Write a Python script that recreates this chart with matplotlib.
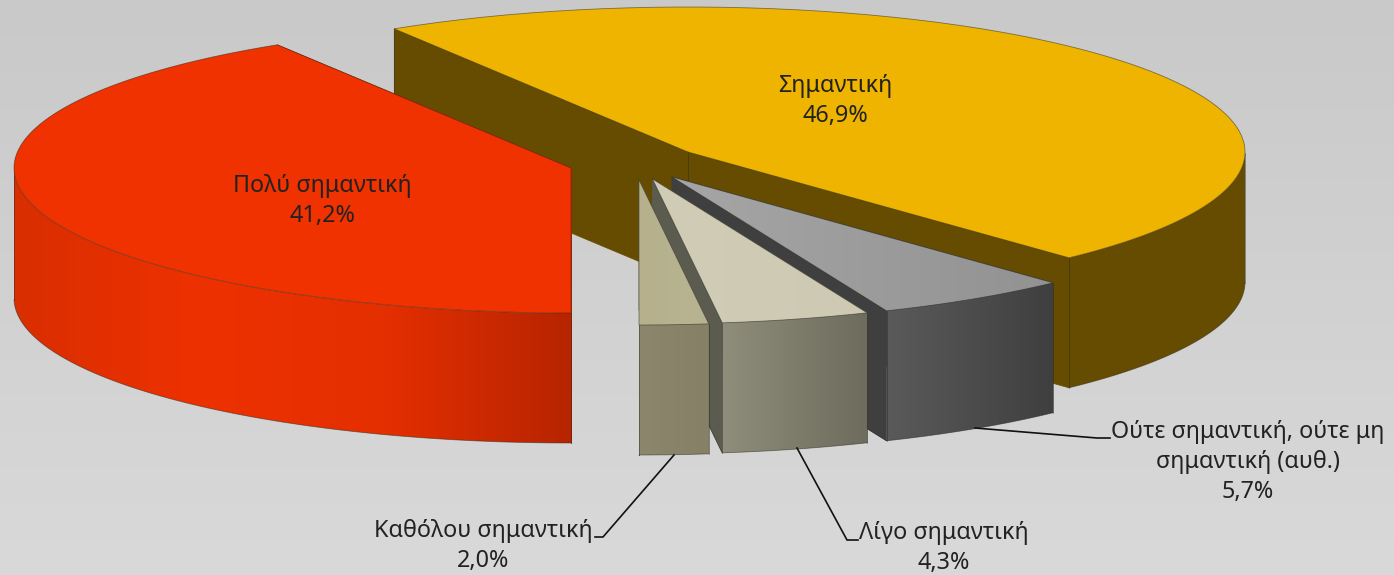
import numpy as np
import matplotlib
matplotlib.use('Agg')
import matplotlib.pyplot as plt
from matplotlib.colors import LinearSegmentedColormap
from matplotlib.patches import Polygon

plt.rcParams['font.family'] = ['Noto Sans', 'DejaVu Sans']

# data
names = ['Πολύ σημαντική', 'Σημαντική', 'Ούτε σημαντική, ούτε μη\nσημαντική (αυθ.)', 'Λίγο σημαντική', 'Καθόλου σημαντική']
values = [41.2, 46.9, 5.7, 4.3, 2.0]

# layout (pixels), each slice has its own exploded centre
a = 557
b = 145
depth = 130
start_angle = -90
centre_x = [571, 688, 672, 652.5, 639]
centre_y = [168, 152, 177, 179, 180]
label_x = [322, 835, 1248, 944, 483]
label_y = [201, 101, 462, 548, 546]

# colours
top_cols = [['#f03200', '#f03200'], ['#eeb400', '#eeb400'], ['#a6a6a6', '#929292'],
            ['#d0ccb6', '#cdc9b3'], ['#b6b18c', '#b8b391']]
rim_cols = [['#d92e00', '#ee3100', '#e42f00', '#b72400'], ['#664c00', '#664c00'], ['#5a5a5a', '#3f3f3f'],
            ['#8f8d7b', '#6d6c5d'], ['#8b866c', '#868166']]
face_cols = ['#b72400', '#664c00', '#3f3f3f', '#5c5b50', '#6a6655']
edge_col = '#2a2a20'

fig = plt.figure(figsize=(13.94, 5.75), dpi=100)
ax = fig.add_axes([0, 0, 1, 1])

# background
bg = np.linspace(0, 1, 256).reshape(-1, 1)
bg_cmap = LinearSegmentedColormap.from_list('bg', ['#c9c9c9', '#d9d9d9'])
ax.imshow(bg, cmap=bg_cmap, extent=(0, 1394, 575, 0), aspect='auto', zorder=0)


def gradient_fill(pts, colors, z):
    # horizontal gradient clipped to a polygon
    pts = np.array(pts)
    cmap = LinearSegmentedColormap.from_list('g', colors)
    x0, x1 = pts[:, 0].min(), pts[:, 0].max()
    y0, y1 = pts[:, 1].min(), pts[:, 1].max()
    grad = np.linspace(0, 1, 256).reshape(1, -1)
    im = ax.imshow(grad, cmap=cmap, extent=(x0, x1, y1, y0), aspect='auto', zorder=z)
    clip = Polygon(pts, closed=True, transform=ax.transData)
    im.set_clip_path(clip)


def outline(pts, z, lw=0.6, alpha=0.55):
    pts = np.array(pts)
    ax.plot(pts[:, 0], pts[:, 1], color=edge_col, lw=lw, alpha=alpha, zorder=z, solid_capstyle='round')


shares = np.array(values) / sum(values) * 360
ends = start_angle - np.cumsum(shares)
starts = ends + shares

# painter's order: back slice first, then the front ones from right to left, red last
order = [1, 2, 3, 4, 0]
for i in order:
    z = 10 + order.index(i) * 5
    cx, cy = centre_x[i], centre_y[i]
    t = np.radians(np.linspace(starts[i], ends[i], 200))
    xs = cx + a * np.cos(t)
    ys = cy - b * np.sin(t)
    apex = (cx, cy)

    # side faces of the cut, clockwise end drawn last so it is the one that shows
    for j in [0, -1]:
        quad = [apex, (xs[j], ys[j]), (xs[j], ys[j] + depth), (cx, cy + depth)]
        ax.add_patch(Polygon(quad, closed=True, fc=face_cols[i], ec=face_cols[i], lw=0.5, zorder=z))
    if i == 1:
        outline([(xs[0], ys[0]), (xs[0], ys[0] + depth)], z + 0.1)
        outline([apex, (cx, cy + depth)], z + 0.1)
    else:
        outline([(xs[-1], ys[-1] + depth), (cx, cy + depth)], z + 0.1)

    # outer wall, only the part facing the viewer
    front = np.sin(t) <= 0
    if front.any():
        fx, fy = xs[front], ys[front]
        wall = list(zip(fx, fy)) + list(zip(fx[::-1], fy[::-1] + depth))
        gradient_fill(wall, rim_cols[i], z + 1)
        outline(list(zip(fx, fy + depth)), z + 1.5)
        outline([(fx[0], fy[0]), (fx[0], fy[0] + depth)], z + 1.5)
        outline([(fx[-1], fy[-1]), (fx[-1], fy[-1] + depth)], z + 1.5)

    # top
    top = [apex] + list(zip(xs, ys))
    gradient_fill(top, top_cols[i], z + 2)
    outline(top + [apex], z + 2.5)

    ax.text(label_x[i], label_y[i], names[i] + '\n' + f'{values[i]:.1f}%'.replace('.', ','),
            ha='center', va='center', fontsize=16.8, color='#222222', zorder=50, linespacing=1.33)

# leader lines
leader_x = [[975, 1097, 1110], [797, 847, 858], [674, 603, 595]]
leader_y = [[428, 438, 438], [448, 540, 540], [455, 537, 537]]
for lx, ly in zip(leader_x, leader_y):
    ax.plot(lx, ly, color='#111111', lw=1.2, zorder=45)

ax.set_xlim(0, 1394)
ax.set_ylim(575, 0)
ax.axis('off')

fig.savefig('out.png', dpi=100)
